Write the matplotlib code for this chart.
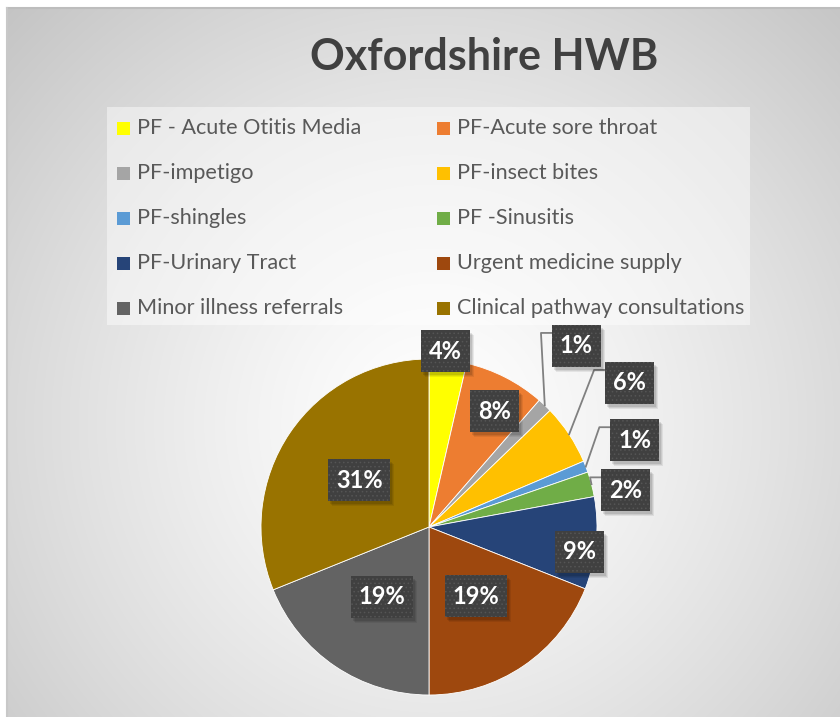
import numpy as np
import matplotlib.pyplot as plt
from matplotlib.patches import Rectangle

plt.rcParams['hatch.linewidth'] = 0.6

# slices, clockwise from 12 o'clock
categories = ["PF - Acute Otitis Media", "PF-Acute sore throat", "PF-impetigo",
              "PF-insect bites", "PF-shingles", "PF -Sinusitis", "PF-Urinary Tract",
              "Urgent medicine supply", "Minor illness referrals",
              "Clinical pathway consultations"]
shares = [3.6, 7.8, 1.4, 5.8, 1.1, 2.4, 8.9, 19.0, 18.9, 31.1]
colors = ["#FFFF00", "#ED7D31", "#A5A5A5", "#FFC000", "#5B9BD5",
          "#70AD47", "#264478", "#9E480E", "#636363", "#997300"]

# label placement (fraction of radius, clockwise nudge in degrees)
lab_r = [1.05, 0.79, 1.39, 1.47, 1.33, 1.19, 0.91, 0.5, 0.5, 0.5]
lab_da = [-1, 2.5, -4.4, -2.2, -1.8, 4.2, 3.8, 0, 0, 0]
leader = [False, False, True, True, True, True, False, False, False, False]

W, H = 840, 717
fig = plt.figure(figsize=(W / 100, H / 100), dpi=100)
ax = fig.add_axes([0, 0, 1, 1])

# radial grey background
yy, xx = np.mgrid[0:H, 0:W]
d = np.hypot(xx - 430, yy - 420) / 620
g = np.clip(1 - 0.24 * d ** 1.3, 0, 1)
ax.imshow(np.dstack([g, g, g]), extent=(7, W, 0, H - 8), origin='upper', zorder=0)
ax.plot([7, W], [H - 8, H - 8], color='#bdbdbd', lw=1.5, zorder=1)
ax.plot([7, 7], [0, H - 8], color='#c8c8c8', lw=1.5, zorder=1)

cx, cy, R = 429, H - 527, 168
wedges, _ = ax.pie(shares, colors=colors, startangle=90, counterclock=False,
                   center=(cx, cy), radius=R,
                   wedgeprops=dict(edgecolor='white', linewidth=0.6))
for w in wedges:
    w.set_zorder(2)

for w, v, r, da, lead in zip(wedges, shares, lab_r, lab_da, leader):
    mid = (w.theta1 + w.theta2) / 2
    a = np.deg2rad(mid - da)
    x, y = cx + r * R * np.cos(a), cy + r * R * np.sin(a)
    txt = f"{round(v)}%"
    bw, bh = (49 if len(txt) == 2 else 62), 42
    # soft shadow
    for k, al in [(5, 0.07), (4, 0.08), (3, 0.1)]:
        ax.add_patch(Rectangle((x - bw / 2 + k - 1, y - bh / 2 - k), bw, bh,
                               facecolor='black', alpha=al, linewidth=0, zorder=3.5))
    ax.add_patch(Rectangle((x - bw / 2, y - bh / 2), bw, bh, facecolor='#404040',
                           edgecolor='#555555', hatch='....', linewidth=0, zorder=4))
    ax.text(x, y, txt, color='white', fontsize=17, fontweight='bold', family='Lato',
            ha='center', va='center', zorder=5)
    if lead:
        m = np.deg2rad(mid)
        sx, sy = cx + R * np.cos(m), cy + R * np.sin(m)
        left, top = x - bw / 2, y + bh / 2 - 8
        ax.plot([sx, left - 11, left], [sy, top, top], color='#808080', lw=1.3, zorder=3)

# legend
ax.add_patch(Rectangle((107, H - 325), 643, 218, facecolor='white', alpha=0.45,
                       linewidth=0, zorder=1))
for i, (name, c) in enumerate(zip(categories, colors)):
    row, col = divmod(i, 2)
    lx = [117, 437][col]
    ly = H - (128 + 45 * row)
    ax.add_patch(Rectangle((lx, ly - 7), 13, 13, facecolor=c, linewidth=0, zorder=2))
    ax.text(lx + 20, ly, name, fontsize=15.6, color='#595959', family='Lato',
            ha='left', va='center', zorder=2)

ax.text(484, H - 57, "Oxfordshire HWB", fontsize=31, fontweight='bold', color='#404040',
        family='Lato', ha='center', va='center', zorder=2)

ax.set_xlim(0, W)
ax.set_ylim(0, H)
ax.set_aspect('auto')
ax.axis('off')
fig.savefig('out.png', dpi=100, facecolor='white')
